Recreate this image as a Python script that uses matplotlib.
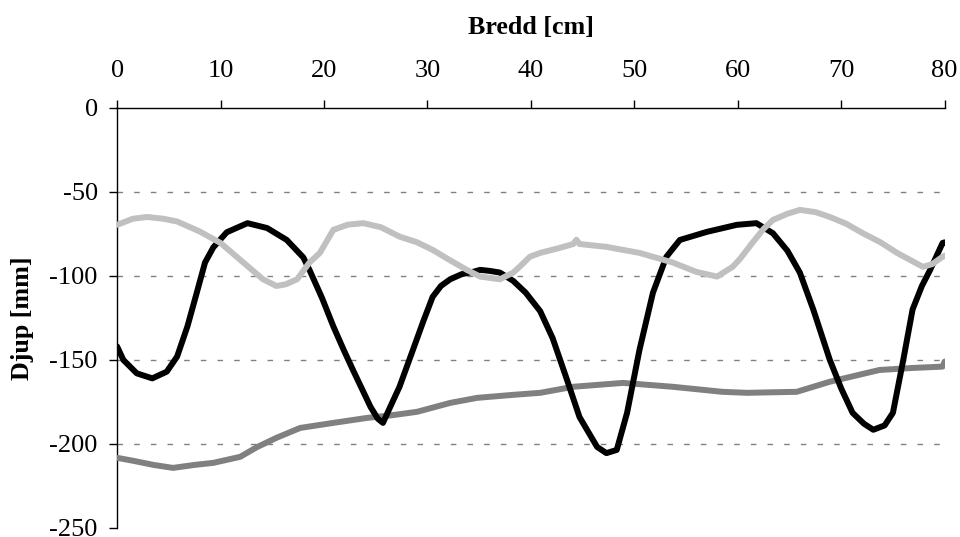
import matplotlib.pyplot as plt

plt.rcParams['font.family'] = ['Liberation Serif', 'DejaVu Serif']
plt.rcParams['axes.unicode_minus'] = False

# black profile
x_black = [0, 0.6, 1.9, 3.4, 4.8, 5.8, 6.8, 7.7, 8.5, 9.3, 10.6, 12.6, 14.5, 16.4, 18,
           18.6, 19.8, 20.9, 21.9, 22.8, 24.5, 25.2, 25.7, 26.4, 27.3, 28.6, 29.6,
           30.5, 31.3, 32.2, 33.3, 34.4, 35.1, 36, 37, 38.3, 39.5, 40.9, 42.1, 43.5,
           44.7, 46.4, 47.3, 48.3, 49.3, 50.5, 51.8, 53.1, 54.4, 57, 59.9, 61.8, 63.4,
           64.8, 66, 67.3, 68.9, 70, 71.1, 72.2, 73.1, 74.2, 75, 76, 76.9, 77.8, 78.6,
           79.8, 80]
y_black = [-142, -150, -158, -161, -157, -148, -130, -110, -92, -83, -74, -68.6, -71.5,
           -78.6, -89, -96.5, -113, -130, -144, -156, -178, -185, -187.5, -178, -166,
           -144, -127, -112.5, -106, -102, -99, -97.6, -96.4, -97, -98, -103, -110,
           -121, -137, -162, -184, -201.8, -205.5, -203.6, -181.5, -144, -110, -88.6,
           -78.6, -73.8, -69.6, -68.6, -74.6, -85, -98, -120, -150, -167, -181.5, -188,
           -191.6, -189, -181.5, -150, -120, -106, -96.4, -80.4, -80]

# light grey profile
x_light = [0, 1.5, 2.9, 4.5, 5.8, 8, 10, 12.2, 14.1, 15.4, 16.3, 17.4, 18.6, 19.6,
           20.9, 22.3, 23.8, 25.5, 27.3, 29, 30.5, 32, 33.8, 35.1, 37, 38.3, 38.9,
           39.9, 40.9, 42.8, 44.1, 44.4, 44.7, 47.3, 50.5, 53.7, 56, 58, 59.5, 60.2,
           61.4, 62.5, 63.4, 64.8, 66, 67.5, 68.9, 70.5, 72.1, 73.8, 75.4, 77.9, 78.8,
           79.8, 80]
y_light = [-69.6, -66, -64.9, -66, -67.6, -73.6, -80.4, -92, -102, -106, -105, -102,
           -92, -86.3, -72.6, -69.5, -68.6, -71, -76.6, -80, -84.5, -90, -96.4, -100.4,
           -102, -98, -94.6, -88.6, -86.3, -83.3, -81, -78.5, -81, -82.7, -86.3, -92,
           -97.6, -100.4, -94.6, -90, -80.4, -72, -66.7, -63, -60.7, -62, -64.9, -69,
           -74.6, -80, -86.3, -94.6, -93, -88.6, -88]

# dark grey profile
x_dark = [0, 1.5, 3.5, 5.4, 7.5, 9.3, 11.9, 13.5, 15.4, 17.7, 20.9, 24.2, 26.5, 29,
          32.2, 34.8, 38.3, 40.9, 44.1, 48.9, 53.7, 58.5, 60.9, 65.7, 68.9, 73.7,
          76.9, 79.8, 80]
y_dark = [-208.3, -210, -212.5, -214.3, -212.5, -211.3, -207.7, -202, -196.4, -190.5,
          -187.5, -184.5, -183, -180.9, -175.6, -172.6, -170.8, -169.6, -166, -163.7,
          -166, -169, -169.6, -169, -163, -156, -154.8, -154, -151]

y_ticks = [0, -50, -100, -150, -200, -250]
x_ticks = [0, 10, 20, 30, 40, 50, 60, 70, 80]

fig = plt.figure(figsize=(9.6, 5.37), dpi=100)
ax = fig.add_axes([0.122, 0.017, 0.862, 0.782])

for y in y_ticks[1:-1]:
    ax.axhline(y, color='#808080', lw=1.0, dashes=(4, 8), zorder=1)

line_kw = dict(lw=4.3, solid_joinstyle='round', solid_capstyle='round', zorder=3)
ax.plot(x_dark, y_dark, color='#808080', **line_kw)
ax.plot(x_black, y_black, color='black', **line_kw)
ax.plot(x_light, y_light, color='#c0c0c0', **line_kw)

ax.set_xlim(0, 80)
ax.set_ylim(-250, 0)
ax.set_xticks(x_ticks)
ax.set_yticks(y_ticks)

ax.spines['right'].set_visible(False)
ax.spines['bottom'].set_visible(False)
ax.spines['top'].set_linewidth(1.0)
ax.spines['left'].set_linewidth(1.0)

ax.xaxis.tick_top()
ax.xaxis.set_label_position('top')
ax.tick_params(axis='x', direction='out', length=6, width=1, pad=12.5, labelsize=19)
ax.tick_params(axis='y', direction='out', length=6, width=1, pad=8, labelsize=19)

ax.set_xlabel('Bredd [cm]', fontsize=18.7, fontweight='bold', labelpad=19)
ax.set_ylabel('Djup [mm]', fontsize=18.7, fontweight='bold', labelpad=11)

fig.savefig('out.png', dpi=100)
